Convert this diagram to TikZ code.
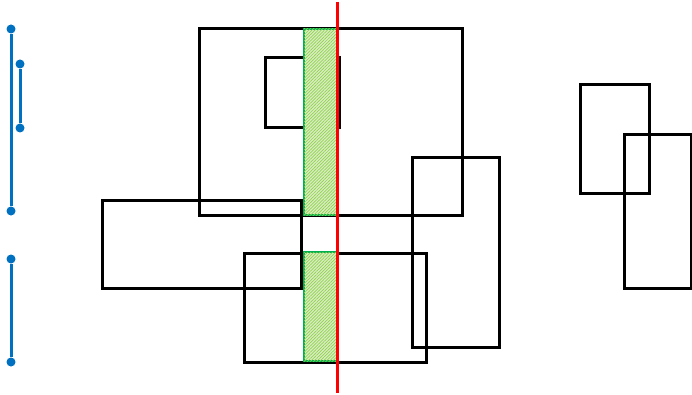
\documentclass[tikz,border=0pt]{standalone}
\usepackage{tikz}
\usetikzlibrary{patterns.meta}

\definecolor{segblue}{RGB}{0,112,192}
\definecolor{hatchgreen}{RGB}{0,176,80}
\definecolor{hatchlime}{RGB}{146,208,80}

\begin{document}
\begin{tikzpicture}[
    x=1pt,
    y=-1pt,
    box/.style={
        draw=black,
        line width=3pt,
        line join=miter
    },
    overlap/.style={
        draw=hatchgreen,
        line width=1.6pt,
        fill=hatchlime!35,
        postaction={pattern={Lines[angle=45,distance=2.2pt,line width=0.7pt]},
                    pattern color=hatchlime}
    },
    sweep/.style={
        draw=red,
        line width=3pt
    },
    segment/.style={
        draw=segblue,
        line width=3pt
    },
    endpt/.style={
        circle,
        fill=segblue,
        inner sep=0pt,
        minimum size=9pt
    }
]

\useasboundingbox (0,0) rectangle (692,395);

% =====================================================
% Rectangles
% =====================================================

\draw[box] (199,29) rectangle (462,215);
\draw[box] (265,58) rectangle (339,128);
\draw[box] (102,201) rectangle (301,288);
\draw[box] (244,253) rectangle (426,362);
\draw[box] (412,158) rectangle (499,347);
\draw[box] (580,85) rectangle (649,194);
\draw[box] (624,135) rectangle (691,288);

% =====================================================
% Overlaps
% =====================================================

\draw[overlap] (304,29) rectangle (337,215);
\draw[overlap] (304,252) rectangle (337,361);

% =====================================================
% Sweep line
% =====================================================

\coordinate (Stop) at (337,2);
\coordinate (Sbot) at (337,393);
\draw[sweep] (Stop) -- (Sbot);

% =====================================================
% Intervals
% =====================================================

\node[endpt] (A1) at (11,29) {};
\node[endpt] (A2) at (11,211) {};
\node[endpt] (B1) at (20,64) {};
\node[endpt] (B2) at (20,128) {};
\node[endpt] (C1) at (11,259) {};
\node[endpt] (C2) at (11,362) {};

\draw[segment] (A1) -- (A2);
\draw[segment] (B1) -- (B2);
\draw[segment] (C1) -- (C2);

\end{tikzpicture}
\end{document}
